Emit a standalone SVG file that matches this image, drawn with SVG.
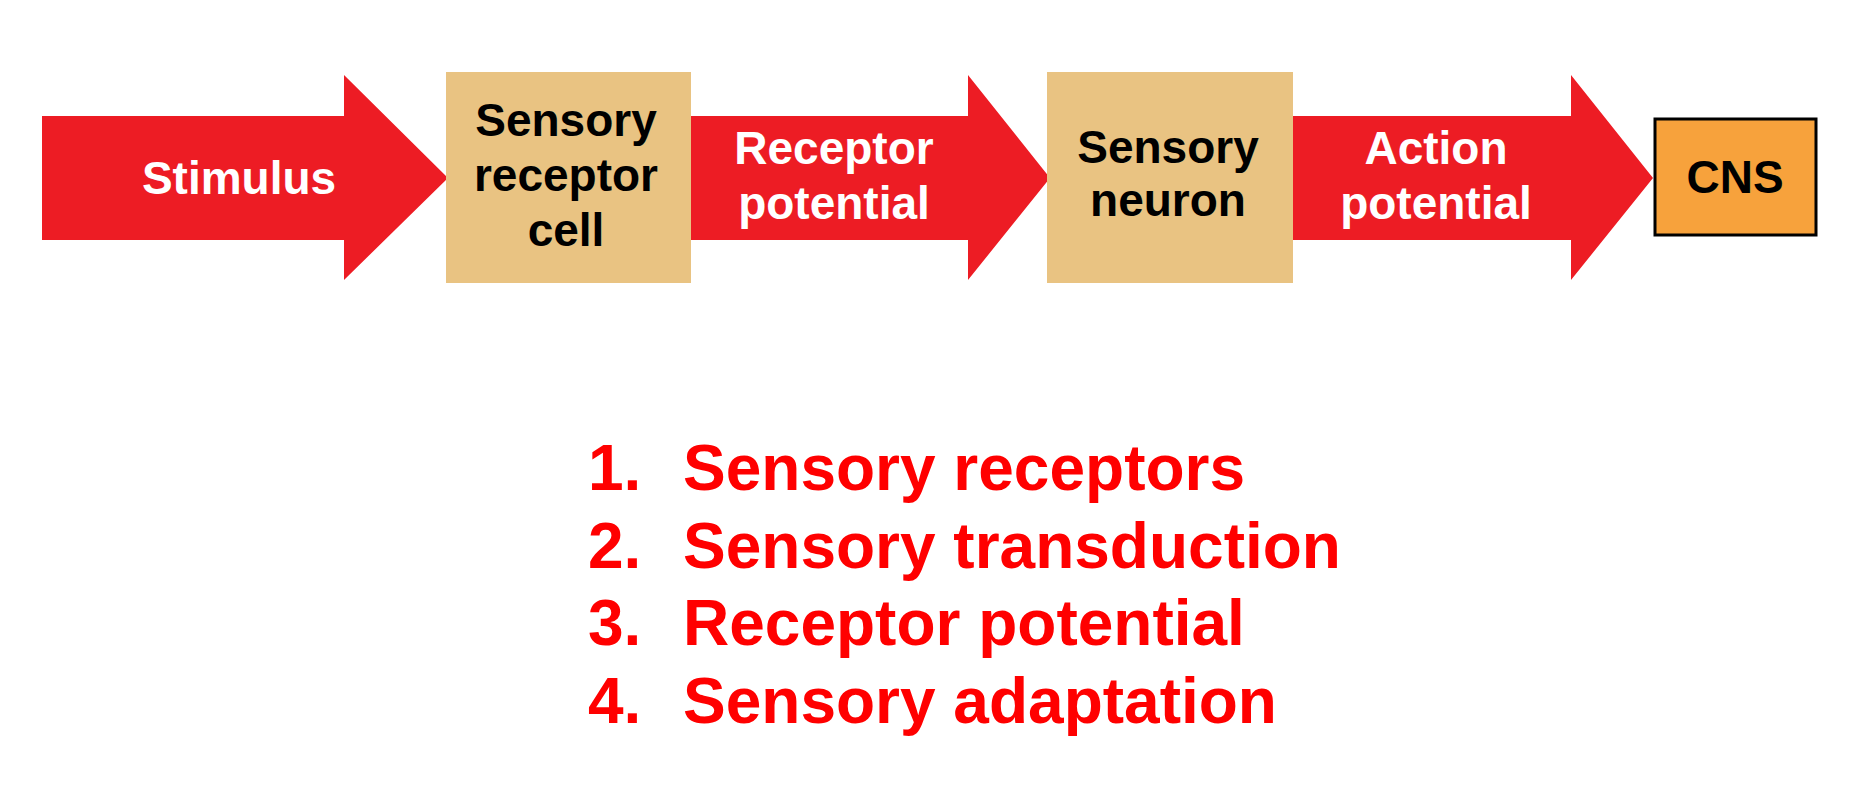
<svg xmlns="http://www.w3.org/2000/svg" width="1874" height="804" viewBox="0 0 1874 804">
<style>
.arrow{fill:#ed1c24}
.box{fill:#e9c382}
.w{font-family:"Liberation Sans",Arial,sans-serif;font-weight:bold;font-size:46px;fill:#fff;text-anchor:middle}
.b{font-family:"Liberation Sans",Arial,sans-serif;font-weight:bold;font-size:46px;fill:#000;text-anchor:middle}
.l{font-family:"Liberation Sans",Arial,sans-serif;font-weight:bold;font-size:64px;fill:#ff0000}
</style>
<rect width="1874" height="804" fill="#fff"/>
<g id="connectors">
<g id="stimulus"><polygon class="arrow" points="42,116 344,116 344,75 448,178 344,280 344,240 42,240"/><text class="w" x="239" y="194">Stimulus</text></g>
<g id="receptor-potential"><polygon class="arrow" points="691,116 968,116 968,75 1050,178 968,280 968,240 691,240"/><text class="w" x="834" y="164">Receptor</text><text class="w" x="834" y="219">potential</text></g>
<g id="action-potential"><polygon class="arrow" points="1293,116 1571,116 1571,75 1653,178 1571,280 1571,240 1293,240"/><text class="w" x="1436" y="164">Action</text><text class="w" x="1436" y="219">potential</text></g>
</g>
<g id="sensory-receptor-cell"><rect class="box" x="446" y="72" width="245" height="211"/><text class="b" x="566" y="136">Sensory</text><text class="b" x="566" y="191">receptor</text><text class="b" x="566" y="246">cell</text></g>
<g id="sensory-neuron"><rect class="box" x="1047" y="72" width="246" height="211"/><text class="b" x="1168" y="163">Sensory</text><text class="b" x="1168" y="216">neuron</text></g>
<g id="cns"><rect x="1655" y="119" width="161" height="116" fill="#f7a23c" stroke="#000" stroke-width="3"/><text class="b" x="1735" y="193">CNS</text></g>
<g id="list">
<text class="l" x="588" y="490">1.</text><text class="l" x="683" y="490">Sensory receptors</text>
<text class="l" x="588" y="568">2.</text><text class="l" x="683" y="568">Sensory transduction</text>
<text class="l" x="588" y="645">3.</text><text class="l" x="683" y="645">Receptor potential</text>
<text class="l" x="588" y="723">4.</text><text class="l" x="683" y="723">Sensory adaptation</text>
</g>
</svg>
